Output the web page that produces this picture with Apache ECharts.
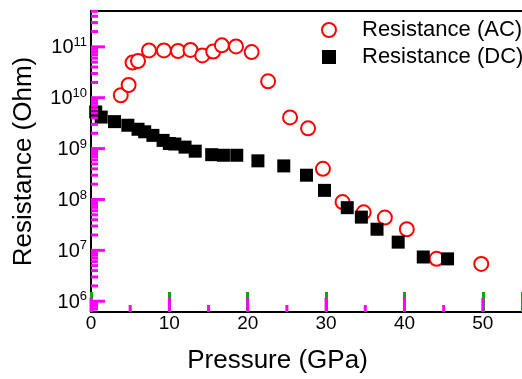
<!DOCTYPE html>
<html>
<head>
<meta charset="utf-8">
<script src="https://cdn.jsdelivr.net/npm/echarts@6/dist/echarts.min.js"></script>
<style>
  html, body { margin: 0; padding: 0; background: #fff; }
  #chart { width: 522px; height: 379px; }
</style>
</head>
<body>
<div id="chart"></div>
<script>
// pressure (GPa) / resistance (Ohm)
const acPressure = [3.8, 4.8, 5.3, 6.0, 7.4, 9.3, 11.1, 12.7, 14.2, 15.6, 16.7, 18.5, 20.5, 22.6, 25.4, 27.7, 29.6, 32.1, 34.8, 37.5, 40.3, 44.1, 49.8]
const acResistance = [1.12e10, 1.78e10, 4.9e10, 5.25e10, 8.5e10, 8.5e10, 8.3e10, 8.7e10, 6.8e10, 8.1e10, 1.07e11, 1.02e11, 7.9e10, 2.1e10, 4.1e9, 2.5e9, 4.0e8, 8.9e7, 5.6e7, 4.4e7, 2.6e7, 6.8e6, 5.4e6]
const dcPressure = [0.6, 1.3, 3.0, 4.7, 6.0, 6.85, 7.9, 9.2, 10.0, 10.7, 12.0, 13.3, 15.4, 16.9, 18.6, 21.3, 24.6, 27.5, 29.8, 32.7, 34.5, 36.5, 39.2, 42.4, 45.5]
const dcResistance = [5.25e9, 4.17e9, 3.39e9, 2.88e9, 2.4e9, 2.14e9, 1.82e9, 1.45e9, 1.26e9, 1.23e9, 1.07e9, 8.9e8, 7.6e8, 7.4e8, 7.4e8, 5.75e8, 4.57e8, 3.0e8, 1.51e8, 6.9e7, 4.5e7, 2.6e7, 1.45e7, 7.4e6, 6.8e6]

const xTicks = [0, 10, 20, 30, 40, 50]
const xMinorTicks = [5, 15, 25, 35, 45]
const yDecades = [6, 7, 8, 9, 10, 11] // exponents shown as 10^n

const yMin = 5.788 // log10 of the axis ends
const yMax = 11.705
const font = 'Liberation Sans, Arial, sans-serif'

// y axis runs on log10 of the resistance
const toPoints = (xs, ys) => xs.map((x, i) => [x, Math.log10(ys[i])])

// minor ticks at 2..9 of each decade
const yMinorTicks = []
for (let d = 5; d <= 11; d++) {
  for (let k = 2; k <= 9; k++) {
    const v = d + Math.log10(k)
    if (v > yMin && v < yMax) yMinorTicks.push(v)
  }
}

// inward tick marks, placed through the axes with api.coord
const xTickData = xTicks.map(v => [v, yMin, 14]).concat(xMinorTicks.map(v => [v, yMin, 7]))
const yTickData = yDecades.map(v => [0, v, 14]).concat(yMinorTicks.map(v => [0, v, 7]))

const tickSeries = (data, vertical) => ({
  type: 'custom',
  silent: true,
  clip: false,
  z: 5,
  data,
  renderItem: (params, api) => {
    const p = api.coord([api.value(0), api.value(1)])
    const len = api.value(2)
    return {
      type: 'line',
      shape: vertical
        ? { x1: p[0], y1: p[1], x2: p[0], y2: p[1] - len }
        : { x1: p[0], y1: p[1], x2: p[0] + len, y2: p[1] },
      style: { stroke: '#ff00ff', lineWidth: 3 }
    }
  }
})

const chart = echarts.init(document.getElementById('chart'))

const option = {
  animation: false,
  grid: { left: 91, right: 0, top: 11, bottom: 61 },
  legend: {
    orient: 'vertical',
    left: 316,
    top: 14,
    itemWidth: 14,
    itemHeight: 14,
    itemGap: 5,
    data: ['Resistance (AC)', 'Resistance (DC)'],
    textStyle: { fontSize: 22, fontFamily: font, color: '#000', lineHeight: 22, padding: [0, 0, 0, 21] }
  },
  xAxis: [
    {
      type: 'value',
      min: 0,
      max: 55,
      interval: 10,
      name: 'Pressure (GPa)',
      nameLocation: 'middle',
      nameGap: 36,
      nameTextStyle: { fontSize: 26, fontFamily: font, color: '#000', padding: [0, 58, 0, 0] },
      axisLine: { show: true, onZero: false, lineStyle: { color: '#000', width: 2 } },
      axisTick: { show: true, inside: true, length: 20, lineStyle: { color: '#00aa00', width: 3 } },
      axisLabel: { customValues: xTicks, fontSize: 19, fontFamily: font, color: '#000', margin: 2 },
      splitLine: { show: false }
    },
    {
      // top frame line
      type: 'value',
      min: 0,
      max: 55,
      position: 'top',
      axisLine: { show: true, onZero: false, lineStyle: { color: '#000', width: 2 } },
      axisTick: { show: false },
      axisLabel: { show: false },
      splitLine: { show: false }
    }
  ],
  yAxis: {
    type: 'value',
    min: yMin,
    max: yMax,
    name: 'Resistance (Ohm)',
    nameLocation: 'middle',
    nameGap: 54,
    nameTextStyle: { fontSize: 26, fontFamily: font, color: '#000' },
    axisLine: { show: true, onZero: false, lineStyle: { color: '#000', width: 2 } },
    axisTick: { show: false },
    axisLabel: {
      customValues: yDecades,
      margin: 4,
      formatter: v => '{b|10}{e|' + v + '}',
      rich: {
        b: { fontSize: 20, fontFamily: font, color: '#000', lineHeight: 22, verticalAlign: 'bottom' },
        e: { fontSize: 13, fontFamily: font, color: '#000', lineHeight: 13, verticalAlign: 'top' }
      }
    },
    splitLine: { show: false }
  },
  series: [
    tickSeries(xTickData, true),
    tickSeries(yTickData, false),
    {
      name: 'Resistance (AC)',
      type: 'scatter',
      symbol: 'emptyCircle',
      symbolSize: 14,
      itemStyle: { color: '#ff0000', borderWidth: 1, opacity: 1 },
      data: toPoints(acPressure, acResistance),
      z: 2
    },
    {
      name: 'Resistance (DC)',
      type: 'scatter',
      symbol: 'rect',
      symbolSize: 13,
      itemStyle: { color: '#000', opacity: 1 },
      data: toPoints(dcPressure, dcResistance),
      z: 3
    }
  ]
}

chart.setOption(option)
</script>
</body>
</html>
